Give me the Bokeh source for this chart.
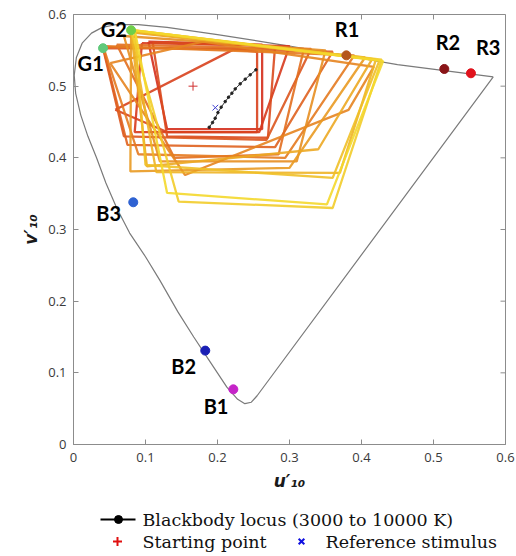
from bokeh.plotting import figure
from bokeh.models import Range1d, Label, FixedTicker
from bokeh.layouts import column
from bokeh.embed import file_html
from bokeh.resources import INLINE
from bokeh.core.properties import value

# ---------------- data ----------------
# spectral locus (u'10, v'10)
locus_u = [0.583, 0.45, 0.30, 0.20, 0.13, 0.09, 0.06, 0.04, 0.025, 0.012, 0.004, 0.001,
           0.003, 0.010, 0.020, 0.032, 0.045, 0.060, 0.078, 0.10, 0.12, 0.145, 0.167,
           0.19, 0.213, 0.228, 0.238, 0.247, 0.255, 0.583]
locus_v = [0.513, 0.530, 0.556, 0.572, 0.582, 0.586, 0.586, 0.582, 0.574, 0.560, 0.540, 0.515,
           0.490, 0.460, 0.430, 0.400, 0.365, 0.330, 0.295, 0.262, 0.229, 0.185, 0.150,
           0.115, 0.080, 0.063, 0.057, 0.059, 0.068, 0.513]

# blackbody locus 3000 .. 10000 K
bb_u = [0.2533, 0.2454, 0.2385, 0.2315, 0.2246, 0.2200, 0.2153, 0.2107, 0.2051, 0.2006, 0.1968, 0.1931, 0.1885]
bb_v = [0.5228, 0.5158, 0.5098, 0.5032, 0.4962, 0.4902, 0.4846, 0.4785, 0.4707, 0.4631, 0.4553, 0.4492, 0.4427]

start_u = [0.166]
start_v = [0.500]
ref_u = [0.197]
ref_v = [0.470]

prim_names = ["G1", "G2", "R1", "R2", "R3", "B1", "B2", "B3"]
prim_u = [0.041, 0.080, 0.379, 0.515, 0.552, 0.222, 0.183, 0.083]
prim_v = [0.553, 0.578, 0.543, 0.524, 0.518, 0.077, 0.131, 0.338]
prim_colors = ["#5fc97a", "#6fcf4a", "#b5561c", "#8a1518", "#e0121c", "#c524c8", "#1a1fb5", "#2e62d2"]
label_u = [0.042, 0.074, 0.380, 0.520, 0.576, 0.198, 0.153, 0.066]
label_v = [0.533, 0.580, 0.580, 0.562, 0.555, 0.054, 0.110, 0.323]
label_align = ["right", "right", "center", "center", "center", "center", "center", "right"]

# adjustment quadrilaterals (u lists, v lists), red -> yellow
quad_u = [
    [0.104, 0.262, 0.262, 0.130],
    [0.095, 0.300, 0.258, 0.085],
    [0.058, 0.222, 0.255, 0.255, 0.130],
    [0.110, 0.280, 0.270, 0.130],
    [0.041, 0.330, 0.268, 0.070],
    [0.041, 0.360, 0.280, 0.075],
    [0.060, 0.320, 0.285, 0.140],
    [0.041, 0.390, 0.294, 0.090],
    [0.051, 0.180, 0.417, 0.382, 0.155],
    [0.070, 0.350, 0.310, 0.120],
    [0.080, 0.405, 0.300, 0.079],
    [0.080, 0.415, 0.340, 0.102],
    [0.080, 0.420, 0.370, 0.115],
    [0.085, 0.425, 0.360, 0.100],
    [0.080, 0.428, 0.360, 0.146],
    [0.085, 0.430, 0.352, 0.130],
]
quad_v = [
    [0.562, 0.558, 0.440, 0.440],
    [0.560, 0.556, 0.436, 0.436],
    [0.467, 0.551, 0.548, 0.436, 0.436],
    [0.561, 0.556, 0.428, 0.430],
    [0.553, 0.552, 0.425, 0.430],
    [0.555, 0.548, 0.415, 0.418],
    [0.558, 0.552, 0.405, 0.400],
    [0.556, 0.543, 0.400, 0.405],
    [0.532, 0.562, 0.527, 0.467, 0.376],
    [0.570, 0.550, 0.395, 0.395],
    [0.575, 0.540, 0.386, 0.381],
    [0.577, 0.538, 0.412, 0.388],
    [0.576, 0.537, 0.379, 0.380],
    [0.578, 0.536, 0.372, 0.390],
    [0.578, 0.537, 0.330, 0.339],
    [0.578, 0.535, 0.335, 0.351],
]
quad_colors = ["#d42f1c", "#d73a1d", "#d8411d", "#da4a1e", "#dc551e", "#df621f", "#e26e1f", "#e47a20",
               "#e58420", "#e78e21", "#e99a22", "#eca824", "#eeb426", "#f0c028", "#f2cc2a", "#f4d82c"]

ticks = [0, 0.1, 0.2, 0.3, 0.4, 0.5, 0.6]
tick_labels = ["0", "0.1", "0.2", "0.3", "0.4", "0.5", "0.6"]

AX = "#8c8c8c"

# ---------------- main plot ----------------
p = figure(width=516, height=500, x_range=Range1d(0, 0.6), y_range=Range1d(0, 0.6),
           output_backend="svg", toolbar_location=None,
           min_border_left=73, min_border_right=11, min_border_top=14, min_border_bottom=56)
p.xgrid.visible = False
p.ygrid.visible = False
p.outline_line_color = AX
p.background_fill_color = "white"
p.border_fill_color = "white"

overrides = {t: s for t, s in zip(ticks, tick_labels)}
for ax in [p.xaxis[0], p.yaxis[0]]:
    ax.ticker = FixedTicker(ticks=ticks)
    ax.major_label_overrides = overrides
    ax.major_tick_in = 5
    ax.major_tick_out = 0
    ax.minor_tick_line_color = None
    ax.axis_line_color = AX
    ax.major_tick_line_color = AX
    ax.major_label_text_color = "#3a3a3a"
    ax.major_label_text_font = "Open Sans"
    ax.major_label_text_font_size = "13px"
    ax.axis_label_text_font = "DejaVu Sans"
    ax.axis_label_text_font_style = "bold italic"
    ax.axis_label_text_font_size = "17px"
    ax.axis_label_text_color = "#1a1a1a"
p.xaxis.major_label_standoff = 8
p.yaxis.major_label_standoff = 7
p.xaxis.axis_label = "u′₁₀"
p.yaxis.axis_label = "v′₁₀"
p.xaxis.axis_label_standoff = 6
p.yaxis.axis_label_standoff = 4

# ticks on the top and right edges of the box
tk = 0.6 * 5 / 432
p.segment(x0=ticks, y0=[0.6] * len(ticks), x1=ticks, y1=[0.6 - tk] * len(ticks), line_color=AX, line_width=1)
p.segment(x0=[0.6] * len(ticks), y0=ticks, x1=[0.6 - tk] * len(ticks), y1=ticks, line_color=AX, line_width=1)

# spectral locus
p.line(locus_u, locus_v, line_color="#7a7a7a", line_width=1.2)

# quadrilaterals
qx = [u + [u[0]] for u in quad_u]
qy = [v + [v[0]] for v in quad_v]
p.multi_line(qx, qy, line_color=quad_colors, line_width=2.3, line_alpha=0.9)

# blackbody locus
p.line(bb_u, bb_v, line_color="#333333", line_width=1)
p.scatter(bb_u, bb_v, size=2.5, color="#222222")

# start and reference
p.scatter(start_u, start_v, marker="cross", size=9, line_color="#d03030", line_width=1)
p.scatter(ref_u, ref_v, marker="x", size=8, line_color="#4040d0", line_width=1)

# primaries
p.scatter(prim_u, prim_v, size=9, fill_color=prim_colors, line_color=prim_colors)
for n, u, v, al in zip(prim_names, label_u, label_v, label_align):
    p.add_layout(Label(x=u, y=v, text=n, text_align=al, text_baseline="middle",
                       text_font="Lato", text_font_style="bold", text_font_size="20px",
                       text_color="black"))

# ---------------- legend ----------------
# x range equals canvas pixels because the column aligns this frame with the main frame
lg = figure(width=516, height=56, x_range=Range1d(73, 505), y_range=Range1d(0, 56),
            output_backend="svg", toolbar_location=None,
            min_border_left=73, min_border_right=11, min_border_top=0, min_border_bottom=0)
lg.axis.visible = False
lg.grid.visible = False
lg.outline_line_color = None
lg.background_fill_color = "white"
lg.border_fill_color = "white"
lg.line([100, 135], [37, 37], line_color="black", line_width=2.2)
lg.scatter([118], [37], size=8, color="black")
lg.scatter([117], [15], marker="cross", size=9, line_color="#e01010", line_width=2)
lg.scatter([301], [15], marker="x", size=8, line_color="#1010e0", line_width=2)
lg.text([142, 142, 325], [37, 15, 15],
        text=["Blackbody locus (3000 to 10000 K)", "Starting point", "Reference stimulus"],
        text_font=value("DejaVu Serif"), text_font_size="17.5px", text_baseline="middle",
        text_color="#111111")

layout = column(p, lg, spacing=0)
open("out.html", "w").write(file_html(layout, INLINE))
